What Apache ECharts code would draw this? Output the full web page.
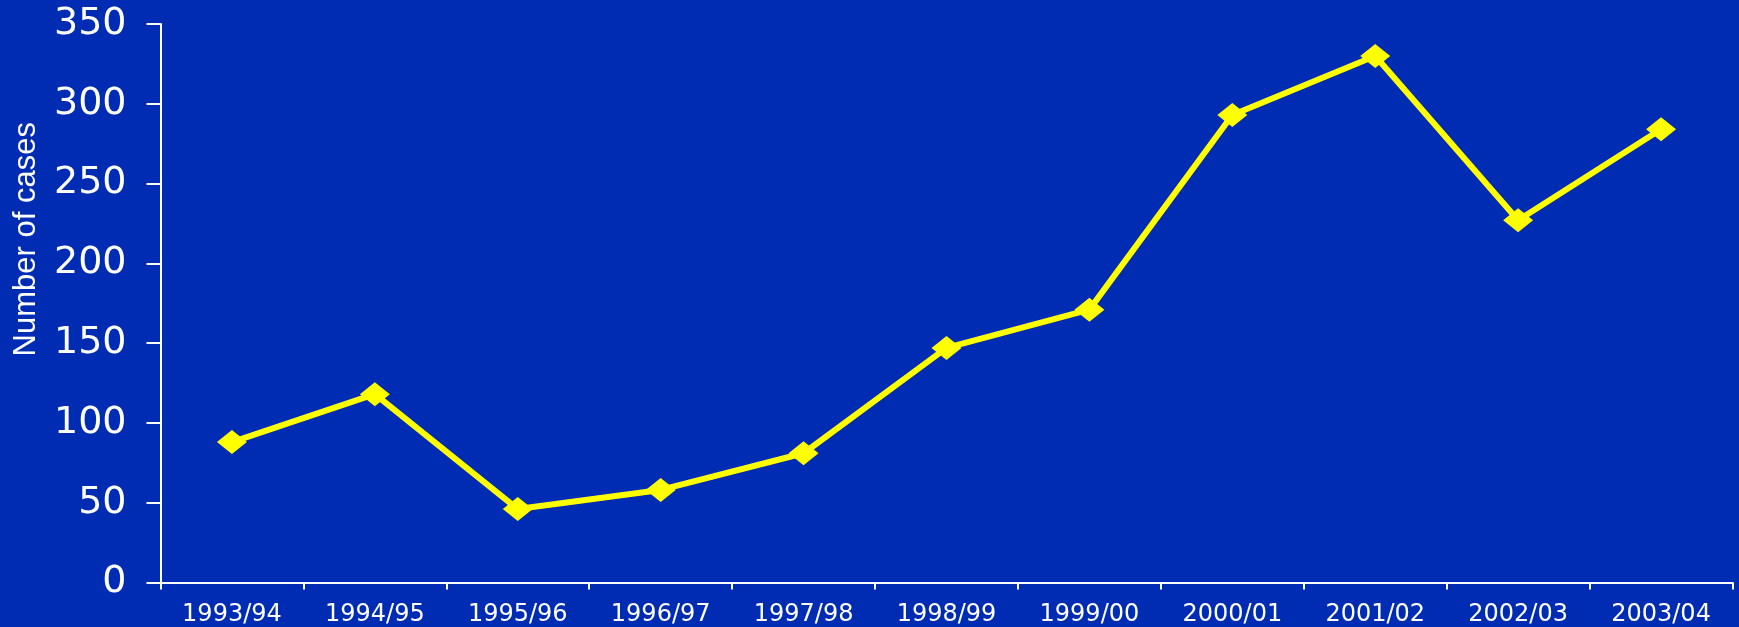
<!DOCTYPE html>
<html>
<head>
<meta charset="utf-8">
<script src="https://cdn.jsdelivr.net/npm/echarts@6/dist/echarts.min.js"></script>
<style>
html,body{margin:0;padding:0;background:#002cb3;}
#chart{width:1739px;height:627px;}
</style>
</head>
<body>
<div id="chart"></div>
<script>
const categories = ['1993/94','1994/95','1995/96','1996/97','1997/98','1998/99','1999/00','2000/01','2001/02','2002/03','2003/04'];
const cases = [88, 118, 46, 58, 81, 147, 171, 293, 330, 227, 284];
const yName = 'Number of cases';

const chart = echarts.init(document.getElementById('chart'));
chart.setOption({
  backgroundColor: '#002cb3',
  animation: false,
  grid: {left: 160.5, right: 6.5, top: 24, bottom: 44.5, containLabel: false},
  xAxis: {
    type: 'category',
    data: categories,
    boundaryGap: true,
    axisLine: {lineStyle: {color: '#ffffff', width: 2}},
    axisTick: {show: true, length: 7, inside: false, lineStyle: {color: '#ffffff', width: 2}},
    axisLabel: {color: '#ffffff', fontFamily: 'DejaVu Sans', fontSize: 24, margin: 20, interval: 0},
    splitLine: {show: false}
  },
  yAxis: {
    type: 'value',
    min: 0, max: 350, interval: 50,
    name: yName,
    nameLocation: 'middle',
    nameRotate: 90,
    nameGap: 119,
    nameTextStyle: {color: '#ffffff', fontFamily: 'Liberation Sans', fontSize: 31, padding: [0, 0, 0, 128]},
    axisLine: {show: true, lineStyle: {color: '#ffffff', width: 2}},
    axisTick: {show: true, length: 14, inside: false, lineStyle: {color: '#ffffff', width: 2}},
    axisLabel: {color: '#ffffff', fontFamily: 'DejaVu Sans', fontSize: 38, margin: 34},
    splitLine: {show: false}
  },
  series: [{
    type: 'line',
    data: cases,
    symbol: 'diamond',
    symbolSize: [30, 24],
    lineStyle: {color: '#ffff00', width: 6},
    itemStyle: {color: '#ffff00'}
  }]
});
</script>
</body>
</html>
